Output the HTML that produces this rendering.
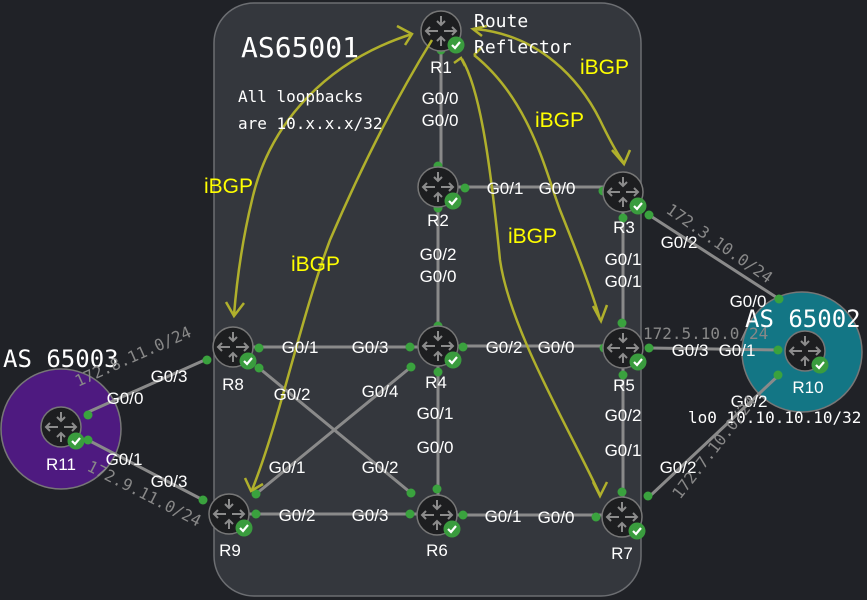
<!DOCTYPE html>
<html><head><meta charset="utf-8"><style>
html,body{margin:0;padding:0;background:#202227;width:867px;height:600px;overflow:hidden}
svg{display:block}
.l{font-family:"Liberation Sans",sans-serif;font-size:17px;fill:#fff;text-anchor:middle}
.m{font-family:"DejaVu Sans Mono","Liberation Mono",monospace;fill:#fff}
.s{font-family:"DejaVu Sans Mono","Liberation Mono",monospace;font-size:16px;fill:#888}
.b{font-family:"Liberation Sans",sans-serif;font-size:21px;fill:#ffff00}
.ln{stroke:#8a8a8a;stroke-width:3;fill:none}
.y{stroke:#b0b02c;stroke-width:2.5;fill:none}
</style></head><body>
<svg width="867" height="600" viewBox="0 0 867 600" xmlns="http://www.w3.org/2000/svg">
<defs>
<g id="rt">
<circle r="20" fill="#1d1e20" stroke="#777" stroke-width="1.5"/>
<g stroke="#8c8c8c" stroke-width="2" fill="none">
<path d="M0,-15 V-6 M-4,-10 L0,-6 L4,-10"/>
<path d="M0,15 V6 M-4,10 L0,6 L4,10"/>
<path d="M-3,0 H-15 M-11,-4 L-15,0 L-11,4"/>
<path d="M3,0 H15 M11,-4 L15,0 L11,4"/>
</g>
<circle cx="15" cy="14" r="8.5" fill="#3a9c3e"/>
<path d="M11,14 L14,17 L19,11" stroke="#fff" stroke-width="2.2" fill="none"/>
</g>
</defs>
<rect x="214" y="3" width="427" height="593" rx="40" fill="#34373d" stroke="#6c6e72" stroke-width="1.5"/>
<circle cx="61" cy="429" r="60" fill="#4e1a80" stroke="#777" stroke-width="1.5"/>
<circle cx="802" cy="352" r="60" fill="#137685" stroke="#777" stroke-width="1.5"/>

<path class="ln" d="M441,52 V187 M458,187 H623 M438,187 V346 M623,192 V346 M233,347 H438 M438,346 H623 M438,346 V515 M623,346 V517 M229,514 H437 M437,515 H622 M259,368 L411,493 M256,494 L411,367 M86,413 L207,359 M88,440 L205,501 M649,215 L779,299 M650,348 L779,350 M650,496 L779,375"/>
<g fill="#3aa23e">
<circle cx="441" cy="50" r="4.5"/><circle cx="438" cy="166" r="4.5"/><circle cx="465" cy="188" r="4.5"/><circle cx="603" cy="191" r="4.5"/>
<circle cx="438" cy="208" r="4.5"/><circle cx="438" cy="326" r="4.5"/><circle cx="623" cy="218" r="4.5"/><circle cx="622" cy="323" r="4.5"/>
<circle cx="259" cy="348" r="4.5"/><circle cx="410" cy="347" r="4.5"/><circle cx="463" cy="347" r="4.5"/><circle cx="604" cy="348" r="4.5"/>
<circle cx="438" cy="372" r="4.5"/><circle cx="437" cy="489" r="4.5"/><circle cx="623" cy="375" r="4.5"/><circle cx="622" cy="492" r="4.5"/>
<circle cx="256" cy="514" r="4.5"/><circle cx="410" cy="514" r="4.5"/><circle cx="463" cy="515" r="4.5"/><circle cx="596" cy="517" r="4.5"/>
<circle cx="259" cy="368" r="4.5"/><circle cx="411" cy="493" r="4.5"/><circle cx="256" cy="494" r="4.5"/><circle cx="411" cy="367" r="4.5"/>
<circle cx="88" cy="415" r="4.5"/><circle cx="207" cy="360" r="4.5"/><circle cx="88" cy="440" r="4.5"/><circle cx="203" cy="500" r="4.5"/>
<circle cx="649" cy="215" r="4.5"/><circle cx="779" cy="299" r="4.5"/><circle cx="649" cy="348" r="4.5"/><circle cx="778" cy="350" r="4.5"/><circle cx="648" cy="496" r="4.5"/><circle cx="778" cy="375" r="4.5"/>
</g>
<use href="#rt" x="441" y="31"/><use href="#rt" x="438" y="187"/><use href="#rt" x="623" y="192"/>
<use href="#rt" x="233" y="347"/><use href="#rt" x="438" y="346"/><use href="#rt" x="623" y="348"/>
<use href="#rt" x="229" y="514"/><use href="#rt" x="437" y="515"/><use href="#rt" x="622" y="517"/>
<use href="#rt" x="61" y="427"/><use href="#rt" x="805" y="351"/>

<g class="y">
<path d="M412,34 C330,60 270,120 252,200 C240,250 236,290 234,315"/><path d="M226,302 L234,316 L244,303"/>
<path d="M432,40 C395,100 360,170 330,240 C300,320 280,420 252,490"/><path d="M245,478 L251,491 L263,484"/>
<path d="M475,29 C540,35 580,80 600,120 C612,145 618,155 624,163"/><path d="M612,150 L624,164 L630,150"/>
<path d="M474,55 C530,100 545,170 560,210 C580,260 595,300 600,320"/><path d="M593,306 L601,321 L607,305"/>
<path d="M462,59 C480,90 490,160 500,260 C510,330 570,430 600,495"/><path d="M593,482 L600,496 L607,482"/>
<path d="M397,26 L412,34 L405,45"/><path d="M487,26 L473,29 L482,36"/><path d="M482,47 L474,55"/><path d="M454,63 L461,58 L465,66"/>
</g>

<text class="m" x="241" y="57" font-size="28">AS65001</text>
<text class="m" x="238" y="102" font-size="16">All loopbacks</text>
<text class="m" x="238" y="129" font-size="16">are 10.x.x.x/32</text>
<text class="m" x="474" y="27" font-size="18">Route</text>
<text class="m" x="474" y="53" font-size="18">Reflector</text>
<text class="m" x="3" y="367" font-size="24">AS 65003</text>
<text class="m" x="745" y="327" font-size="24">AS 65002</text>
<text class="m" x="688" y="423" font-size="16">lo0 10.10.10.10/32</text>

<text class="b" x="204" y="193">iBGP</text>
<text class="b" x="291" y="271">iBGP</text>
<text class="b" x="580" y="74">iBGP</text>
<text class="b" x="535" y="127">iBGP</text>
<text class="b" x="508" y="243">iBGP</text>

<g class="l">
<text x="441" y="73">R1</text><text x="438" y="226">R2</text><text x="624" y="233">R3</text>
<text x="233" y="390">R8</text><text x="436" y="388">R4</text><text x="624" y="391">R5</text>
<text x="230" y="556">R9</text><text x="437" y="556">R6</text><text x="622" y="559">R7</text>
<text x="61" y="470">R11</text><text x="808" y="393">R10</text>
<text x="440" y="104">G0/0</text><text x="440" y="126">G0/0</text>
<text x="505" y="194">G0/1</text><text x="557" y="194">G0/0</text>
<text x="438" y="260">G0/2</text><text x="438" y="282">G0/0</text>
<text x="623" y="265">G0/1</text><text x="623" y="287">G0/1</text>
<text x="300" y="353">G0/1</text><text x="370" y="353">G0/3</text>
<text x="504" y="353">G0/2</text><text x="556" y="353">G0/0</text>
<text x="292" y="400">G0/2</text><text x="380" y="397">G0/4</text>
<text x="435" y="419">G0/1</text><text x="435" y="453">G0/0</text>
<text x="623" y="421">G0/2</text><text x="623" y="456">G0/1</text>
<text x="287" y="473">G0/1</text><text x="380" y="473">G0/2</text>
<text x="297" y="521">G0/2</text><text x="370" y="521">G0/3</text>
<text x="503" y="522">G0/1</text><text x="556" y="523">G0/0</text>
<text x="169" y="382">G0/3</text><text x="125" y="404">G0/0</text>
<text x="124" y="465">G0/1</text><text x="169" y="487">G0/3</text>
<text x="679" y="248">G0/2</text><text x="748" y="307">G0/0</text>
<text x="690" y="356">G0/3</text><text x="737" y="356">G0/1</text>
<text x="749" y="407">G0/2</text><text x="678" y="473">G0/2</text>
</g>
<text class="s" transform="translate(78,387) rotate(-24)">172.8.11.0/24</text>
<text class="s" transform="translate(86,470) rotate(27)">172.9.11.0/24</text>
<text class="s" transform="translate(665,212) rotate(35)">172.3.10.0/24</text>
<text class="s" x="643" y="339">172.5.10.0/24</text>
<text class="s" transform="translate(680,500) rotate(-52)">172.7.10.0/24</text>
</svg>
</body></html>
